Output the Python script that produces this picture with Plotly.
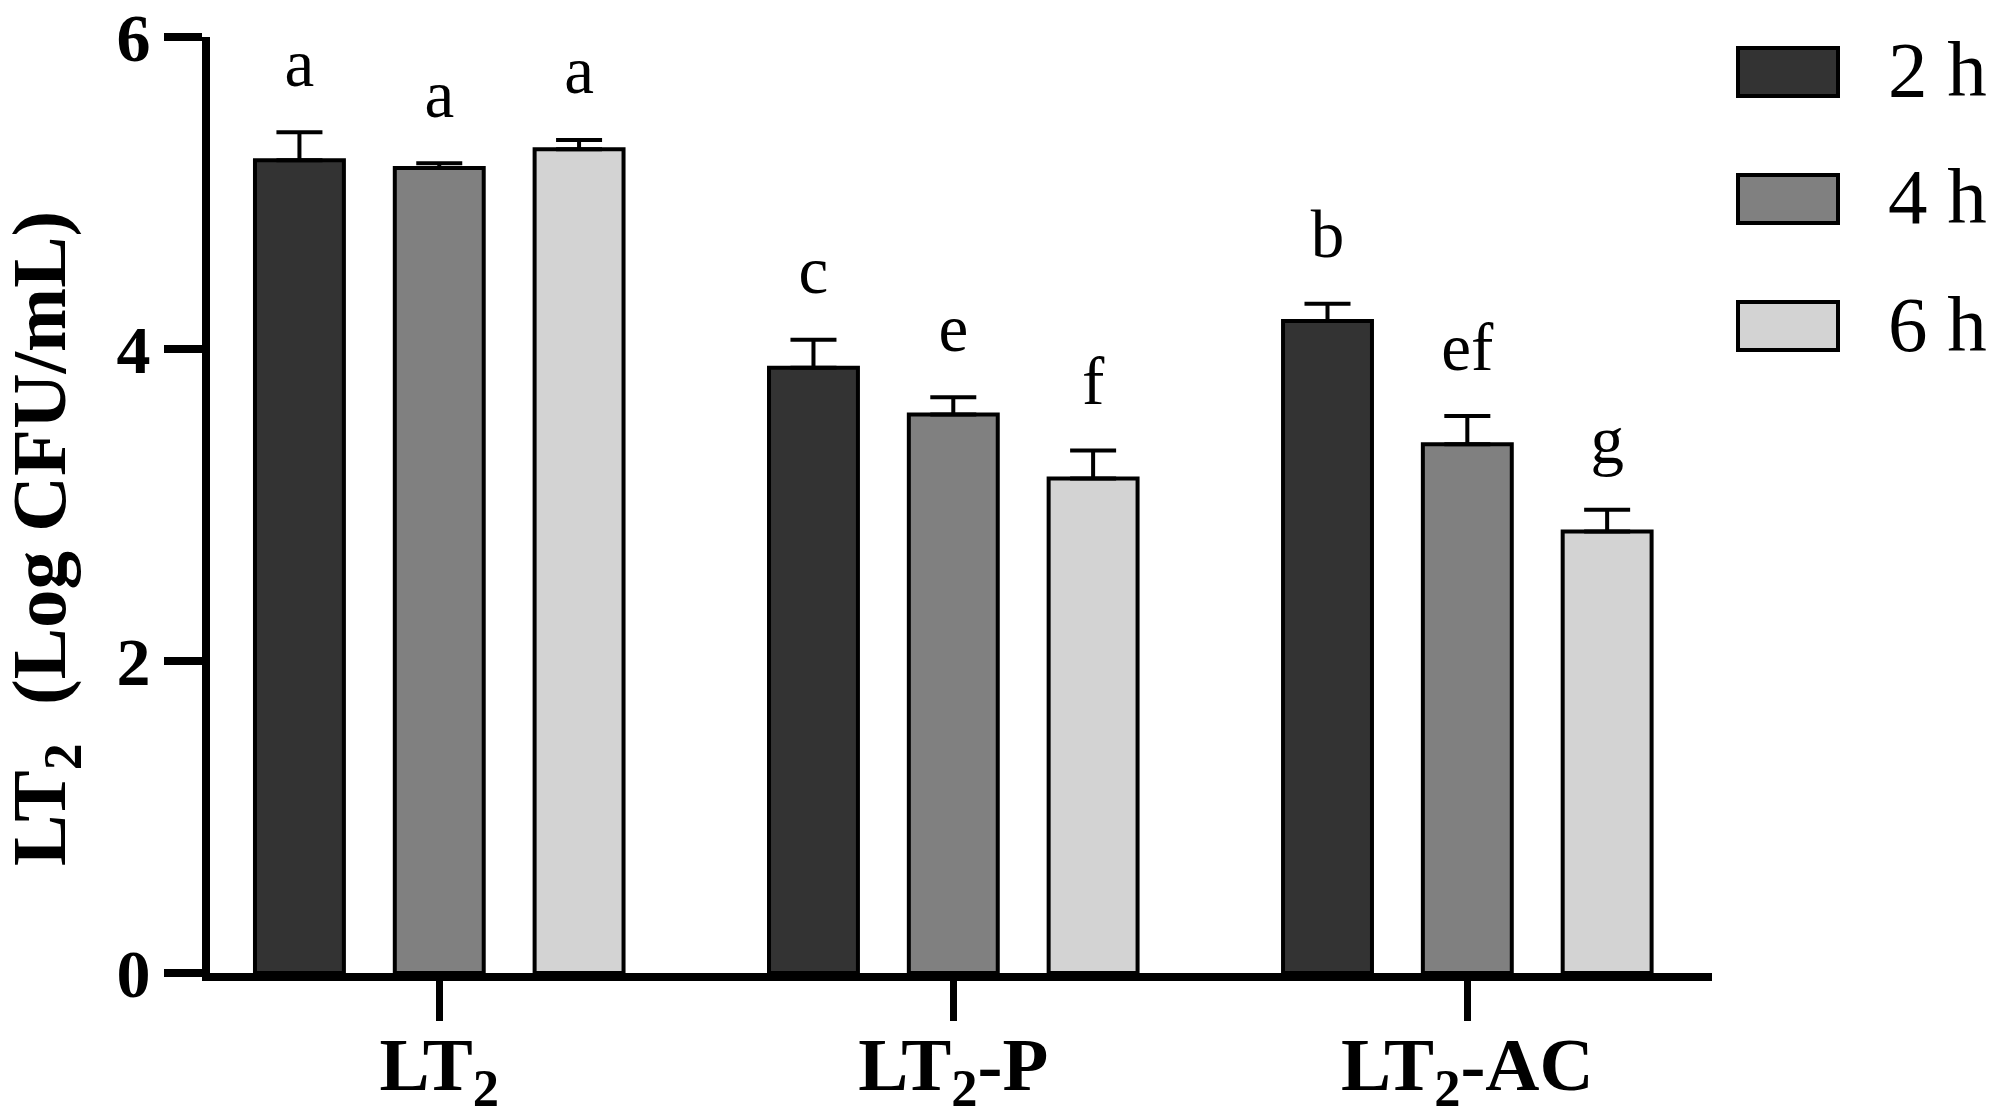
import plotly.graph_objects as go

# Données (Log CFU/mL)
categories = ["LT2", "LT2-P", "LT2-AC"]
tick_labels = ["LT<sub>2</sub>", "LT<sub>2</sub>-P", "LT<sub>2</sub>-AC"]
series = ["2 h", "4 h", "6 h"]

mean_2h = [5.21, 3.88, 4.18]
mean_4h = [5.16, 3.58, 3.39]
mean_6h = [5.28, 3.17, 2.83]

sd_2h = [0.18, 0.18, 0.11]
sd_4h = [0.03, 0.11, 0.18]
sd_6h = [0.06, 0.18, 0.14]

letters_2h = ["a", "c", "b"]
letters_4h = ["a", "e", "ef"]
letters_6h = ["a", "f", "g"]

colors = ["#333333", "#808080", "#d3d3d3"]

means = [mean_2h, mean_4h, mean_6h]
sds = [sd_2h, sd_4h, sd_6h]
letters = [letters_2h, letters_4h, letters_6h]

FONT = "Liberation Serif"
W, H = 1995, 1111
L, R, T, B = 202, 1704, 29, 965  # zone de tracé en pixels

fig = go.Figure()

for i in range(3):
    fig.add_trace(go.Bar(
        x=categories,
        y=means[i],
        name=series[i],
        offsetgroup=series[i],
        marker=dict(color=colors[i], line=dict(color="black", width=4)),
        error_y=dict(type="data", array=sds[i], arrayminus=[0] * 3,
                     symmetric=False, color="black", thickness=4, width=23),
        showlegend=False,
    ))

# lettres de significativité au-dessus des barres d'erreur
# (marqueur invisible pour décaler le texte vers le haut)
for i in range(3):
    fig.add_trace(go.Scatter(
        x=categories,
        y=[m + s for m, s in zip(means[i], sds[i])],
        mode="markers+text",
        marker=dict(size=46, opacity=0),
        text=letters[i],
        textposition="top center",
        textfont=dict(family=FONT, size=67, color="black"),
        offsetgroup=series[i],
        showlegend=False,
        hoverinfo="skip",
    ))

# légende dessinée à la main (grands rectangles)
def px_x(p):
    return (p - L) / (R - L)

def px_y(p):
    return (B - p) / (B - T)

for i, name in enumerate(series):
    top = 40 + i * 127
    fig.add_shape(type="rect", xref="paper", yref="paper",
                  x0=px_x(1730), x1=px_x(1830), y0=px_y(top + 48), y1=px_y(top),
                  fillcolor=colors[i], line=dict(color="black", width=4))
    fig.add_annotation(xref="paper", yref="paper", x=px_x(1878), y=px_y(top + 22),
                       text=name, showarrow=False, xanchor="left", yanchor="middle",
                       font=dict(family=FONT, size=79, color="black"))

# titre de l'axe y
fig.add_annotation(xref="paper", yref="paper", x=px_x(36), y=px_y(531),
                   text="LT<sub>2</sub>  (Log CFU/mL)", textangle=-90, showarrow=False,
                   xanchor="center", yanchor="middle",
                   font=dict(family=FONT, size=77, color="black", weight="bold"))

fig.update_layout(
    width=W, height=H,
    margin=dict(l=L, r=W - R, t=T, b=H - B, autoexpand=False),
    plot_bgcolor="white", paper_bgcolor="white",
    barmode="group", bargap=0.184, bargroupgap=0.364,
    scattermode="group", scattergap=0.184,
    font=dict(family=FONT, color="black"),
)

fig.update_xaxes(
    range=[-0.446, 2.476],
    tickvals=categories, ticktext=tick_labels,
    showline=True, linewidth=8, linecolor="black",
    ticks="outside", ticklen=40, tickwidth=7, tickcolor="black",
    ticklabelstandoff=-21,
    tickfont=dict(family=FONT, size=75, color="black", weight="bold"),
    showgrid=False, zeroline=False, automargin=False,
)

fig.update_yaxes(
    range=[0, 6], tickvals=[0, 2, 4, 6],
    showline=True, linewidth=8, linecolor="black",
    ticks="outside", ticklen=38, tickwidth=8, tickcolor="black",
    ticklabeloverflow="allow",
    tickfont=dict(family=FONT, size=68, color="black", weight="bold"),
    showgrid=False, zeroline=False, automargin=False,
)

fig.write_html("out.html")
